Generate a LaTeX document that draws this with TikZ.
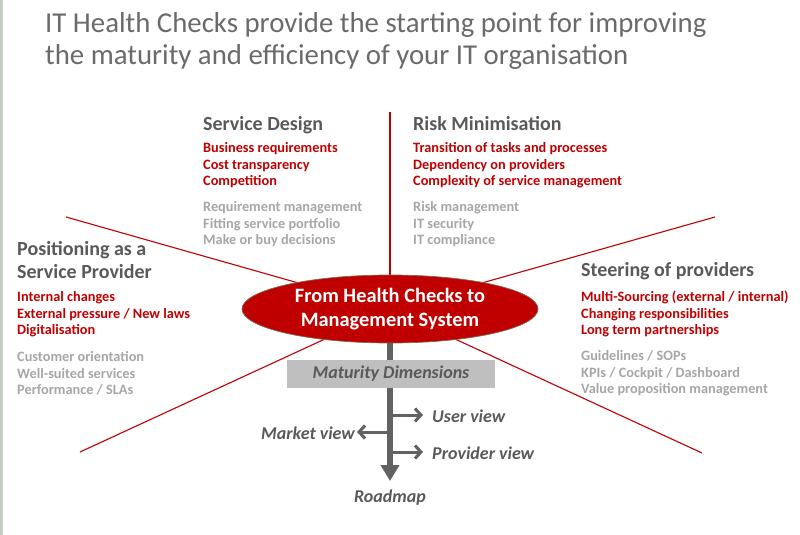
\documentclass[tikz,border=0pt]{standalone}
\usepackage{fontspec}
\setmainfont{Carlito}
\usetikzlibrary{arrows.meta,shapes.geometric,backgrounds}
\definecolor{hred}{HTML}{C00000}
\definecolor{hgray}{HTML}{A6A6A6}
\definecolor{hdark}{HTML}{595959}
\definecolor{htitle}{HTML}{6A6A6A}
\definecolor{harrow}{HTML}{626262}
\definecolor{hbox}{HTML}{BFBFBF}
\definecolor{hbar}{HTML}{C3CFC3}
\definecolor{hedge}{HTML}{7A6E50}
\begin{document}
\begin{tikzpicture}[x=1pt,y=-1pt,
  titletext/.style={anchor=base west,inner sep=0,align=left,text=htitle,font=\fontsize{28.8}{32}\selectfont},
  headtext/.style={anchor=base west,inner sep=0,align=left,text=hdark,font=\fontsize{20}{23}\selectfont\bfseries},
  reditems/.style={anchor=base west,inner sep=0,align=left,text=hred,font=\fontsize{14.3}{16.5}\selectfont\bfseries},
  grayitems/.style={anchor=base west,inner sep=0,align=left,text=hgray,font=\fontsize{14.3}{16.5}\selectfont\bfseries},
  ray/.style={draw=hred,line width=1.1pt},
  shaft/.style={draw=harrow,line width=6pt,-{Triangle[width=18pt,length=16pt]}},
  branch/.style={draw=harrow,line width=3pt,-{Straight Barb[length=6pt,width=13pt]}},
  viewtext/.style={inner sep=0,text=hdark,font=\fontsize{18}{21}\selectfont\bfseries\itshape}]
\useasboundingbox (0,0) rectangle (800,535);
\fill[hbar] (0,0) rectangle (2.5,535);

% title (base anchor = last line baseline)
\node[titletext] (title) at (45,64) {IT Health Checks provide the starting point for improving\\the maturity and efficiency of your IT organisation};

% central ellipse
\node[ellipse,fill=hred,draw=hedge,line width=0.7pt,minimum width=296,minimum height=68,inner sep=0,
      text=white,align=center,font=\fontsize{20.4}{24}\selectfont\bfseries] (core) at (390,309)
      {From Health Checks to\\Management System};

% rays
\coordinate (rtop) at (390,112);
\coordinate (rul) at (66,217);
\coordinate (rur) at (715,217);
\coordinate (rll) at (80,452);
\coordinate (rlr) at (702,453);
\begin{pgfonlayer}{background}
  \draw[ray] (core.center) -- (rtop);
  \draw[ray] (core.center) -- (rul);
  \draw[ray] (core.center) -- (rur);
  \draw[ray] (core.center) -- (rll);
  \draw[ray] (core.center) -- (rlr);
\end{pgfonlayer}

% Service Design
\node[headtext] (sdh) at (203,130.5) {Service Design};
\node[reditems] (sdr) at (203,185.5) {Business requirements\\Cost transparency\\Competition};
\node[grayitems] (sdg) at (203,244.5) {Requirement management\\Fitting service portfolio\\Make or buy decisions};

% Risk Minimisation
\node[headtext] (rmh) at (413,130.5) {Risk Minimisation};
\node[reditems] (rmr) at (413,185.5) {Transition of tasks and processes\\Dependency on providers\\Complexity of service management};
\node[grayitems] (rmg) at (413,244.5) {Risk management\\IT security\\IT compliance};

% Positioning
\node[headtext] (poh) at (17,278) {Positioning as a\\Service Provider};
\node[reditems] (por) at (17,334.5) {Internal changes\\External pressure / New laws\\Digitalisation};
\node[grayitems] (pog) at (17,394.5) {Customer orientation\\Well-suited services\\Performance / SLAs};

% Steering
\node[headtext] (sph) at (581,276.5) {Steering of providers};
\node[reditems] (spr) at (581,334.5) {Multi-Sourcing (external / internal)\\Changing responsibilities\\Long term partnerships};
\node[grayitems] (spg) at (581,393.5) {Guidelines / SOPs\\KPIs / Cockpit / Dashboard\\Value proposition management};

% maturity arrows
\coordinate (roadtip) at (390,481);
\draw[shaft] (core.south) -- (roadtip);
\node[fill=hbox,minimum width=208,minimum height=28,inner sep=0,text=hdark,
      font=\fontsize{18}{21}\selectfont\bfseries\itshape] (maturity) at (391,374) {Maturity Dimensions};

\coordinate (bu) at (390,415);
\coordinate (bm) at (390,432);
\coordinate (bp) at (390,452);
\node[viewtext,anchor=west] (user) at (432,416) {User view};
\node[viewtext,anchor=west] (provider) at (432,453) {Provider view};
\node[viewtext,anchor=east] (market) at (355,433) {Market view};
\node[viewtext] (roadmap) at (390,498) {Roadmap};

\draw[branch,shorten >=9pt] (bu) -- (bu -| user.west);
\draw[branch,shorten >=9pt] (bp) -- (bp -| provider.west);
\draw[branch,shorten >=2pt] (bm) -- (bm -| market.east);
\end{tikzpicture}
\end{document}
